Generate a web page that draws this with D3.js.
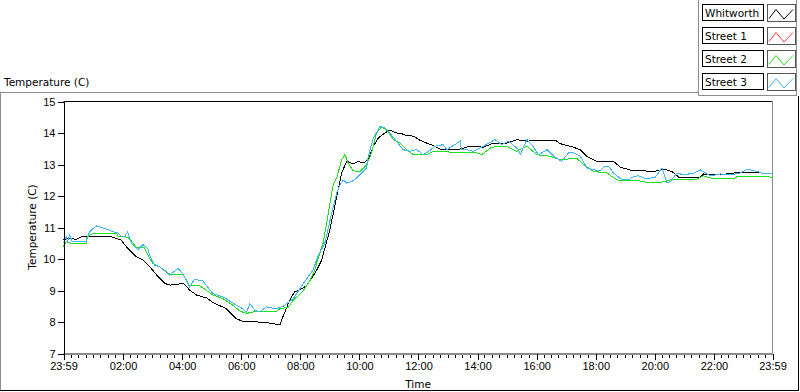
<!DOCTYPE html>
<html>
<head>
<meta charset="utf-8">
<script src="https://cdn.jsdelivr.net/npm/d3@7"></script>
<style>
  body { margin: 0; background: #fff; }
  svg { display: block; }
  .tick text { font-family: "Liberation Sans", Arial, sans-serif; font-size: 11px; fill: #000; }
  .label { font-family: "DejaVu Sans", sans-serif; font-size: 10.5px; fill: #000; }
</style>
</head>
<body>
<svg width="800" height="392"></svg>
<script>
// time is in hours from midnight, the log runs 23:59 -> 23:59
const hours_start = -1 / 60;
const hours_end = 24 - 1 / 60;
const tick_hours = [hours_start, 2, 4, 6, 8, 10, 12, 14, 16, 18, 20, 22, hours_end];
const tick_labels = ['23:59', '02:00', '04:00', '06:00', '08:00', '10:00', '12:00', '14:00', '16:00', '18:00', '20:00', '22:00', '23:59'];
const temp_ticks = [7, 8, 9, 10, 11, 12, 13, 14, 15];
const series_names = ['Whitworth', 'Street 1', 'Street 2', 'Street 3'];
const series_colors = ['#000000', '#ff3c3c', '#1ee01e', '#3cb4f5'];

// [hour, temperature]
const whitworth = [[-0.02,10.62],[0.2,10.66],[0.4,10.62],[0.64,10.73],[1.0,10.73],[1.54,10.73],[1.77,10.65],[1.94,10.6],[2.11,10.39],[2.45,10.07],[2.68,9.96],[2.91,9.75],[3.14,9.49],[3.42,9.22],[3.59,9.17],[3.82,9.2],[4.05,9.22],[4.27,9.0],[4.5,8.85],[4.84,8.76],[5.04,8.62],[5.5,8.42],[5.84,8.1],[6.12,8.0],[6.3,8.02],[6.85,7.98],[7.19,7.93],[7.32,7.92],[7.36,8.05],[7.64,8.69],[7.81,8.96],[7.98,9.02],[8.21,9.15],[8.38,9.38],[8.55,9.64],[8.72,9.96],[9.0,10.92],[9.23,11.98],[9.4,12.73],[9.57,13.1],[9.8,13.02],[9.96,13.1],[10.13,13.05],[10.3,13.15],[10.47,13.58],[10.64,13.84],[10.86,14.0],[11.03,14.09],[11.26,14.0],[11.37,14.0],[11.6,13.92],[11.83,13.9],[12.05,13.77],[12.28,13.68],[12.5,13.6],[12.73,13.49],[13.41,13.49],[13.75,13.58],[14.2,13.55],[14.54,13.68],[14.99,13.68],[15.33,13.79],[15.67,13.74],[16.01,13.77],[16.63,13.77],[16.8,13.66],[17.14,13.58],[17.48,13.47],[17.7,13.26],[18.04,13.1],[18.6,13.1],[18.83,12.92],[19.17,12.82],[19.96,12.78],[20.3,12.85],[20.58,12.78],[20.81,12.6],[21.54,12.6],[21.65,12.7],[22.0,12.67],[22.45,12.7],[22.67,12.73],[23.13,12.76],[23.58,12.73],[23.97,12.7]];
const street_1 = []; // nothing logged for street 1
const street_2 = [[-0.02,10.39],[0.07,10.55],[0.24,10.5],[0.75,10.5],[0.77,10.68],[0.98,10.82],[1.77,10.82],[1.83,10.73],[2.16,10.69],[2.3,10.55],[2.45,10.35],[2.73,10.35],[2.9,10.02],[3.01,9.86],[3.24,9.75],[3.58,9.52],[4.03,9.52],[4.25,9.14],[4.48,9.17],[4.6,9.15],[5.04,8.86],[5.38,8.74],[5.72,8.53],[5.95,8.35],[6.18,8.27],[6.4,8.32],[7.19,8.33],[7.3,8.42],[7.59,8.47],[7.76,8.69],[7.98,8.88],[8.1,9.0],[8.32,9.3],[8.49,9.65],[8.6,10.02],[8.77,10.5],[8.89,11.13],[9.06,12.09],[9.11,12.35],[9.23,12.57],[9.4,13.15],[9.51,13.31],[9.62,13.05],[9.79,12.8],[10.02,12.78],[10.24,12.99],[10.41,13.36],[10.58,14.0],[10.75,14.19],[10.92,14.1],[11.15,13.79],[11.37,13.68],[11.6,13.47],[11.83,13.31],[12.28,13.31],[12.5,13.42],[13.18,13.39],[13.97,13.37],[14.14,13.31],[14.48,13.55],[14.99,13.58],[15.33,13.42],[15.67,13.58],[16.01,13.31],[16.46,13.26],[16.8,13.15],[17.36,13.2],[17.59,12.99],[17.93,12.78],[18.38,12.73],[18.72,12.51],[19.06,12.48],[19.39,12.5],[19.73,12.43],[20.19,12.43],[20.53,12.51],[21.43,12.54],[21.65,12.64],[22.0,12.54],[22.67,12.54],[22.79,12.62],[23.58,12.62],[23.97,12.6]];
const street_3 = [[-0.02,10.5],[0.07,10.71],[0.12,10.55],[0.19,10.76],[0.28,10.55],[0.53,10.55],[0.75,10.55],[0.87,10.87],[1.09,11.05],[1.43,10.95],[1.77,10.83],[1.82,10.84],[1.93,10.73],[2.05,10.72],[2.16,10.86],[2.28,10.5],[2.5,10.3],[2.67,10.46],[2.84,10.33],[2.9,10.12],[3.07,9.8],[3.24,9.75],[3.58,9.49],[3.86,9.7],[4.03,9.52],[4.25,9.11],[4.42,9.36],[4.7,9.3],[5.04,8.9],[5.38,8.8],[5.84,8.53],[6.06,8.42],[6.18,8.3],[6.29,8.58],[6.46,8.37],[6.63,8.32],[6.85,8.48],[7.19,8.42],[7.42,8.5],[7.76,8.74],[8.1,9.22],[8.43,9.65],[8.6,10.1],[8.83,10.5],[9.06,11.45],[9.23,12.09],[9.34,12.35],[9.45,12.51],[9.57,12.41],[9.74,12.46],[9.9,12.57],[10.07,12.73],[10.24,12.89],[10.3,13.26],[10.47,13.84],[10.7,14.21],[10.86,14.16],[11.03,14.0],[11.26,13.73],[11.48,13.47],[11.71,13.42],[11.94,13.47],[12.16,13.31],[12.39,13.45],[12.56,13.58],[12.84,13.63],[12.96,13.47],[13.41,13.74],[13.45,13.47],[13.63,13.47],[13.86,13.42],[14.2,13.58],[14.59,13.79],[14.82,13.63],[15.05,13.74],[15.39,13.47],[15.44,13.31],[15.67,13.79],[15.84,13.63],[16.06,13.31],[16.35,13.47],[16.58,13.26],[16.85,13.1],[17.08,13.37],[17.25,13.37],[17.48,13.26],[17.7,12.89],[17.93,12.83],[18.15,12.8],[18.3,12.94],[18.44,12.94],[18.6,12.73],[18.89,12.51],[19.11,12.51],[19.28,12.62],[19.45,12.64],[19.73,12.54],[20.02,12.6],[20.24,12.89],[20.41,12.41],[20.53,12.46],[20.75,12.73],[20.98,12.67],[21.32,12.73],[21.54,12.83],[21.88,12.64],[22.22,12.7],[22.56,12.67],[22.9,12.73],[23.13,12.85],[23.47,12.78],[23.69,12.7],[23.97,12.73]];
const all_series = [whitworth, street_1, street_2, street_3];

const svg = d3.select('svg');
const plot_left = 63.5, plot_right = 772.5, plot_top = 101.5, plot_bottom = 353.5;

var x = d3.scaleLinear().domain([hours_start, hours_end]).range([plot_left, plot_right]);
var y = d3.scaleLinear().domain([7, 15]).range([plot_bottom, plot_top]);

function hline(x1, x2, yy, col) {
    svg.append('line').attr('x1', x1).attr('x2', x2).attr('y1', yy).attr('y2', yy).attr('stroke', col);
}
function vline(xx, y1, y2, col) {
    svg.append('line').attr('x1', xx).attr('x2', xx).attr('y1', y1).attr('y2', y2).attr('stroke', col);
}

// outer graph frame (sunken look: light top/left, dark bottom/right)
hline(0, 698.5, 92.5, '#8c8c8c');
vline(0.5, 92.5, 390.5, '#8c8c8c');
hline(0, 799, 390.5, '#000');
vline(798.5, 96, 391, '#000');
svg.append('text').attr('class', 'label').attr('x', 4).attr('y', 86).text('Temperature (C)');

// plot area border
hline(plot_left, plot_right, plot_top, '#000');
hline(plot_left, plot_right, plot_bottom, '#8c8c8c');
vline(plot_right, plot_top, plot_bottom, '#8c8c8c');

// lines
var line = d3.line().x(d => x(d[0])).y(d => y(d[1]));
svg.append('g').selectAll('path').data(all_series).enter().append('path')
    .attr('d', d => d.length ? line(d) : null)
    .attr('fill', 'none')
    .attr('stroke', (d, i) => series_colors[i])
    .attr('stroke-width', 1)
    .attr('shape-rendering', 'crispEdges');

// y axis
var y_axis = svg.append('g').attr('transform', `translate(${plot_left},0)`)
    .call(d3.axisLeft(y).tickValues(temp_ticks).tickFormat(d3.format('d')).tickSize(6).tickSizeOuter(0).tickPadding(2));
y_axis.selectAll('line, path').attr('stroke', '#000').attr('shape-rendering', 'crispEdges');

// x axis, minor ticks every 15 min from the start
var minor = d3.range(0, 96).filter(i => i % 8 != 0).map(i => hours_start + i * 0.25);
var x_minor = svg.append('g').attr('transform', `translate(0,${plot_bottom})`)
    .call(d3.axisBottom(x).tickValues(minor).tickFormat('').tickSize(4).tickSizeOuter(0));
x_minor.select('.domain').remove();
x_minor.selectAll('line').attr('stroke', '#000').attr('shape-rendering', 'crispEdges');

var x_axis = svg.append('g').attr('transform', `translate(0,${plot_bottom})`)
    .call(d3.axisBottom(x).tickValues(tick_hours).tickFormat((d, i) => tick_labels[i]).tickSize(6).tickSizeOuter(0).tickPadding(3));
x_axis.select('.domain').attr('stroke', '#8c8c8c').attr('shape-rendering', 'crispEdges');
x_axis.selectAll('line').attr('stroke', '#000').attr('shape-rendering', 'crispEdges');

svg.append('text').attr('class', 'label').attr('text-anchor', 'middle')
    .attr('transform', 'translate(36,227) rotate(-90)').attr('fill', '#200').text('Temperature (C)');
svg.append('text').attr('class', 'label').attr('text-anchor', 'middle')
    .attr('x', 418).attr('y', 388).text('Time');

// legend panel
vline(698.5, 0, 95.5, '#8c8c8c');
hline(698.5, 797, 95.5, '#8c8c8c');
vline(796.5, 0, 95.5, '#8c8c8c');

var legend = svg.append('g').selectAll('g').data(series_names).enter().append('g')
    .attr('transform', (d, i) => `translate(0,${4 + i * 23})`);
legend.append('rect').attr('x', 702.5).attr('y', 0.5).attr('width', 61).attr('height', 16)
    .attr('fill', '#fff').attr('stroke', '#000');
legend.append('text').attr('class', 'label').attr('x', 705).attr('y', 12.5).text(d => d);
legend.append('rect').attr('x', 767.5).attr('y', 0.5).attr('width', 28).attr('height', 17)
    .attr('fill', '#fff').attr('stroke', '#555');
legend.append('path')
    .attr('d', 'M769,14.5 L776,5.5 L784,15 L793,5.5')
    .attr('fill', 'none')
    .attr('stroke', (d, i) => series_colors[i]);
</script>
</body>
</html>
